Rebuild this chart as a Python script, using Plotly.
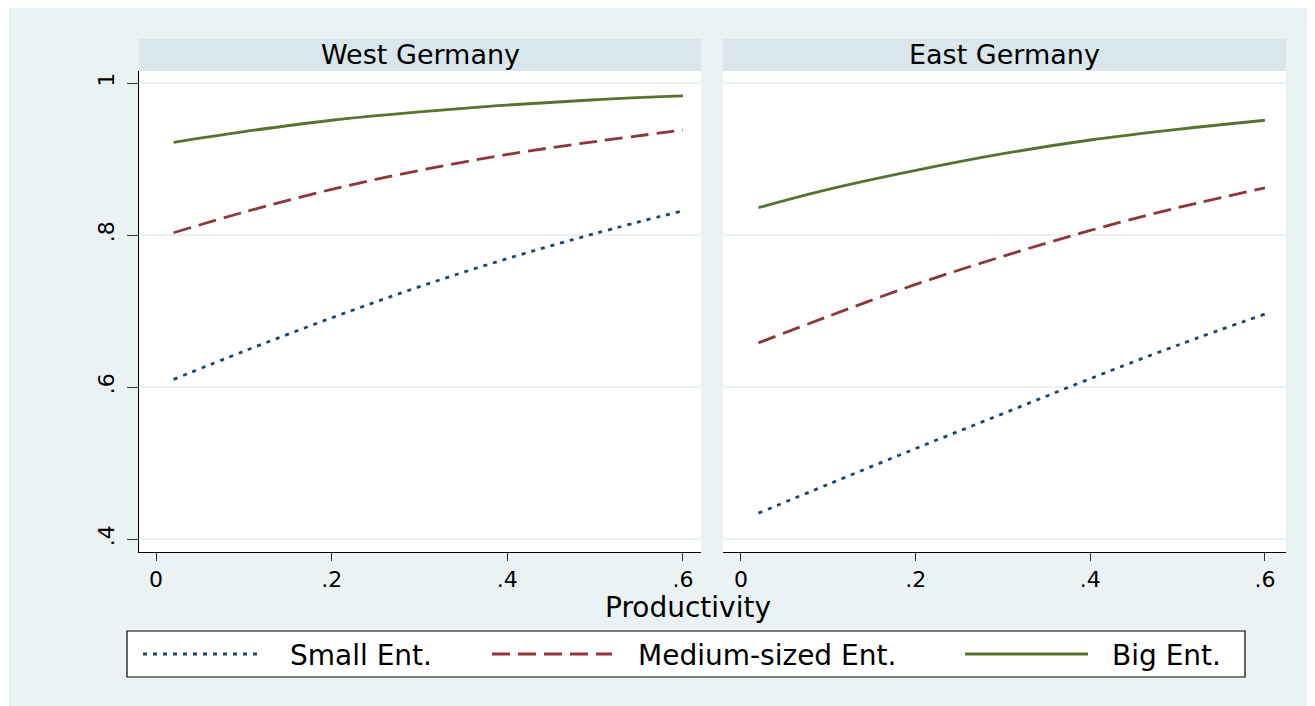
import plotly.graph_objects as go

# ---- data ----
x_vals = [0.02, 0.1, 0.2, 0.3, 0.4, 0.5, 0.6]
west_small = [0.610, 0.647, 0.691, 0.732, 0.769, 0.802, 0.832]
west_medium = [0.803, 0.830, 0.860, 0.885, 0.906, 0.923, 0.938]
west_big = [0.922, 0.936, 0.951, 0.962, 0.971, 0.978, 0.983]
east_small = [0.434, 0.472, 0.519, 0.565, 0.611, 0.655, 0.696]
east_medium = [0.658, 0.693, 0.735, 0.772, 0.806, 0.836, 0.862]
east_big = [0.836, 0.860, 0.885, 0.907, 0.925, 0.939, 0.951]

panel_titles = ["West Germany", "East Germany"]
series_names = ["Small Ent.", "Medium-sized Ent.", "Big Ent."]
x_tickvals = [0, 0.2, 0.4, 0.6]
x_ticktext = ["0", ".2", ".4", ".6"]
y_tickvals = [0.4, 0.6, 0.8, 1.0]
y_ticktext = [".4", ".6", ".8", "1"]
x_title = "Productivity"

# ---- styling ----
# the page body has an 8px margin, so the figure is offset by 8px
OFF = 8
W, H = 1315 - OFF, 706 - OFF
FONT = "DejaVu Sans"
BG = "#EAF2F3"
STRIP = "#D9E6EB"
COLORS = ["#1A476F", "#90353B", "#55752F"]
DASHES = ["4px,6px", "18px,8px", "solid"]
WIDTHS = [2.8, 2.8, 2.8]


def px(x):
    return (x - OFF) / W


def py(y):
    return 1 - (y - OFF) / H


left_dom = [px(139), px(701)]
right_dom = [px(723), px(1286)]
y_dom = [py(552), py(71)]

fig = go.Figure()

panels = [
    ("x", "y", [west_small, west_medium, west_big]),
    ("x2", "y2", [east_small, east_medium, east_big]),
]
for xa, ya, series in panels:
    for i, vals in enumerate(series):
        fig.add_trace(go.Scatter(
            x=x_vals, y=vals, xaxis=xa, yaxis=ya, mode="lines",
            line=dict(color=COLORS[i], width=WIDTHS[i], dash=DASHES[i], shape="spline"),
            name=series_names[i], showlegend=False, hoverinfo="skip",
        ))

tickfont = dict(family=FONT, size=22, color="black")
xaxis_common = dict(
    showline=True, linecolor="black", linewidth=1, mirror=False,
    ticks="outside", ticklen=8, tickwidth=1, tickcolor="#333333",
    tickvals=x_tickvals, ticktext=x_ticktext, tickfont=tickfont,
    showgrid=False, zeroline=False, fixedrange=True,
)
fig.update_layout(
    width=W, height=H, margin=dict(l=0, r=0, t=0, b=0, pad=0),
    paper_bgcolor=BG, plot_bgcolor="white", showlegend=False,
    xaxis=dict(domain=left_dom, range=[-0.01936, 0.6205], anchor="y", **xaxis_common),
    xaxis2=dict(domain=right_dom, range=[-0.0206, 0.6241], anchor="y2", **xaxis_common),
    yaxis=dict(
        domain=y_dom, range=[0.3829, 1.0158], anchor="x",
        showline=True, linecolor="black", linewidth=1,
        ticks="outside", ticklen=11, tickwidth=1, tickcolor="#333333",
        tickvals=y_tickvals, ticktext=y_ticktext, tickfont=tickfont, tickangle=-90,
        ticklabelstandoff=4,
        showgrid=True, gridcolor=BG, gridwidth=1.5, zeroline=False, fixedrange=True,
    ),
    yaxis2=dict(
        domain=y_dom, range=[0.3829, 1.0158], anchor="x2", matches="y",
        showline=False, ticks="", showticklabels=False,
        tickvals=y_tickvals,
        showgrid=True, gridcolor=BG, gridwidth=1.5, zeroline=False, fixedrange=True,
    ),
)

shapes = [
    # white outer border (left strip)
    dict(type="rect", xref="paper", yref="paper", x0=0, x1=px(9), y0=0, y1=1,
         fillcolor="white", line=dict(width=0), layer="below"),
    # panel strips
    dict(type="rect", xref="paper", yref="paper", x0=left_dom[0], x1=left_dom[1],
         y0=py(71), y1=py(39), fillcolor=STRIP, line=dict(width=0), layer="below"),
    dict(type="rect", xref="paper", yref="paper", x0=right_dom[0], x1=right_dom[1],
         y0=py(71), y1=py(39), fillcolor=STRIP, line=dict(width=0), layer="below"),
    # legend box
    dict(type="rect", xref="paper", yref="paper", x0=px(127), x1=px(1245),
         y0=py(677), y1=py(631), fillcolor="white", line=dict(color="black", width=1.2),
         layer="above"),
]
sample_x = [(143, 262), (492, 612), (965, 1088)]
for i, (a, b) in enumerate(sample_x):
    shapes.append(dict(type="line", xref="paper", yref="paper", x0=px(a), x1=px(b),
                       y0=py(654), y1=py(654),
                       line=dict(color=COLORS[i], width=WIDTHS[i], dash=DASHES[i]),
                       layer="above"))

annotations = []
for title, dom in zip(panel_titles, [left_dom, right_dom]):
    annotations.append(dict(text=title, xref="paper", yref="paper",
                            x=(dom[0] + dom[1]) / 2, y=py(55), xanchor="center",
                            yanchor="middle", showarrow=False,
                            font=dict(family=FONT, size=27, color="black")))
annotations.append(dict(text=x_title, xref="paper", yref="paper", x=px(688), y=py(607),
                        xanchor="center", yanchor="middle", showarrow=False,
                        font=dict(family=FONT, size=28, color="black")))
text_x = [288, 636, 1110]
for name, tx in zip(series_names, text_x):
    annotations.append(dict(text=name, xref="paper", yref="paper", x=px(tx), y=py(655),
                            xanchor="left", yanchor="middle", showarrow=False,
                            font=dict(family=FONT, size=28, color="black")))

fig.update_layout(shapes=shapes, annotations=annotations)
fig.write_html("out.html")
